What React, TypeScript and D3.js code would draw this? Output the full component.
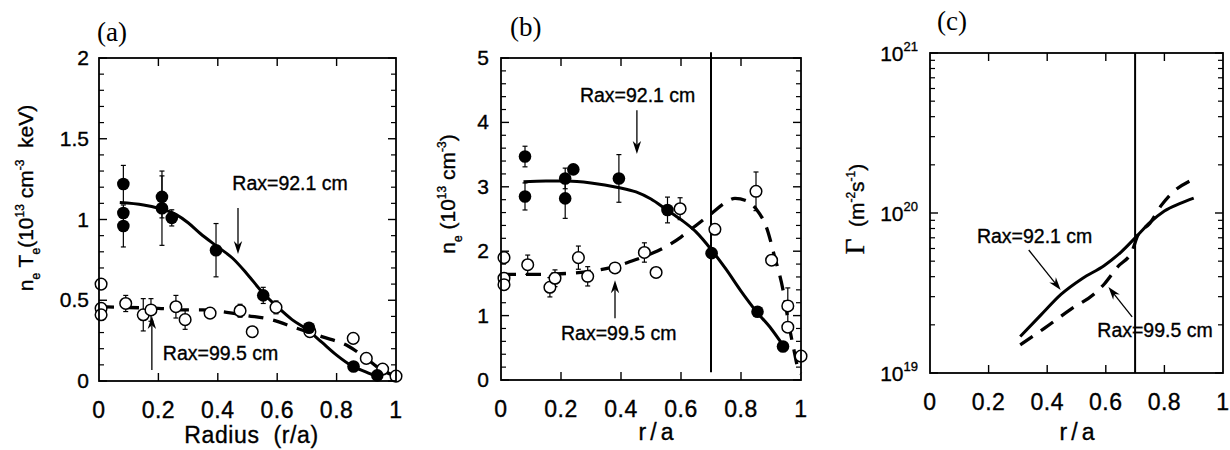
import React from "react";
import * as d3 from "d3";

type Pt = [number, number];
type EPt = [number, number, number];

const SANS = "'Liberation Sans', Arial, Helvetica, sans-serif";
const SERIF = "'Liberation Serif', 'Times New Roman', serif";
const NB = "\u00a0";

// ---------- shared x axis ----------
const xTickVals = [0, 0.2, 0.4, 0.6, 0.8, 1];
const xTickLabels = ["0", "0.2", "0.4", "0.6", "0.8", "1"];

// ---------- panel (a): n_e T_e ----------
const aYTicks = [0, 0.5, 1, 1.5, 2];
const aYTickLabels = ["0", "0.5", "1", "1.5", "2"];
const aFilled: EPt[] = [
  [0.082, 1.22, 0.115], [0.082, 1.04, 0], [0.082, 0.96, 0.13],
  [0.212, 1.14, 0.13], [0.212, 1.07, 0.23], [0.245, 1.01, 0.05],
  [0.394, 0.81, 0.165], [0.553, 0.53, 0.05], [0.707, 0.33, 0],
  [0.857, 0.09, 0], [0.937, 0.035, 0],
];
const aOpen: EPt[] = [
  [0.007, 0.6, 0], [0.007, 0.45, 0], [0.007, 0.41, 0],
  [0.09, 0.48, 0.05], [0.149, 0.41, 0.1], [0.175, 0.44, 0.07],
  [0.259, 0.46, 0.07], [0.29, 0.38, 0.06], [0.374, 0.42, 0],
  [0.475, 0.435, 0.04], [0.516, 0.305, 0], [0.596, 0.456, 0.04],
  [0.71, 0.305, 0], [0.856, 0.264, 0], [0.9, 0.14, 0],
  [0.955, 0.074, 0], [1.0, 0.03, 0],
];
const aSolid: Pt[] = [
  [0.07, 1.105], [0.15, 1.09], [0.2, 1.07], [0.26, 1.03], [0.3, 0.98],
  [0.34, 0.915], [0.4, 0.83], [0.45, 0.76], [0.5, 0.66], [0.55, 0.55],
  [0.6, 0.46], [0.65, 0.38], [0.7, 0.32], [0.75, 0.24], [0.8, 0.16],
  [0.85, 0.095], [0.9, 0.055], [0.94, 0.025],
];
const aDashed: Pt[] = [
  [0, 0.46], [0.1, 0.455], [0.2, 0.45], [0.3, 0.44], [0.35, 0.44],
  [0.43, 0.425], [0.5, 0.405], [0.58, 0.38], [0.66, 0.33], [0.75, 0.275],
  [0.84, 0.215], [0.9, 0.14], [0.95, 0.07], [1.0, 0.03],
];

// ---------- panel (b): n_e ----------
const bYTicks = [0, 1, 2, 3, 4, 5];
const bYTickLabels = ["0", "1", "2", "3", "4", "5"];
const bFilled: EPt[] = [
  [0.08, 3.47, 0.16], [0.08, 2.85, 0.21], [0.214, 3.13, 0.16],
  [0.214, 2.82, 0.31], [0.241, 3.27, 0], [0.393, 3.13, 0.37],
  [0.555, 2.64, 0.2], [0.702, 1.97, 0], [0.855, 1.06, 0], [0.94, 0.52, 0],
];
const bOpen: EPt[] = [
  [0.01, 1.9, 0], [0.01, 1.58, 0], [0.01, 1.48, 0],
  [0.089, 1.79, 0.15], [0.163, 1.44, 0.15], [0.18, 1.58, 0.13],
  [0.258, 1.9, 0.18], [0.289, 1.61, 0.15], [0.38, 1.74, 0],
  [0.478, 1.98, 0.15], [0.517, 1.67, 0], [0.597, 2.66, 0.17],
  [0.713, 2.34, 0], [0.85, 2.93, 0.3], [0.902, 1.86, 0],
  [0.956, 1.15, 0.28], [0.956, 0.82, 0], [1.0, 0.37, 0],
];
const bSolid: Pt[] = [
  [0.075, 3.08], [0.15, 3.09], [0.22, 3.09], [0.3, 3.06], [0.39, 2.99],
  [0.45, 2.92], [0.5, 2.81], [0.55, 2.65], [0.6, 2.49], [0.65, 2.3],
  [0.7, 2.03], [0.75, 1.72], [0.8, 1.38], [0.85, 1.07], [0.9, 0.8], [0.94, 0.54],
];
const bDashed: Pt[] = [
  [0, 1.64], [0.1, 1.64], [0.2, 1.65], [0.3, 1.69], [0.35, 1.73], [0.4, 1.79],
  [0.45, 1.87], [0.5, 1.96], [0.55, 2.07], [0.6, 2.22], [0.65, 2.4],
  [0.7, 2.58], [0.75, 2.76], [0.78, 2.82], [0.82, 2.78], [0.85, 2.66],
  [0.89, 2.3], [0.91, 1.95], [0.94, 1.4], [0.96, 0.85], [0.975, 0.5],
  [0.99, 0.18], [1.0, 0.1],
];

// ---------- panel (c): Gamma (log) ----------
const cYTicks = [1e19, 1e20, 1e21];
const cYTickExps = ["19", "20", "21"];
const cSolid: Pt[] = [
  [0.308, 1.69e19], [0.378, 2.3e19], [0.447, 3.1e19], [0.52, 3.9e19],
  [0.595, 4.7e19], [0.652, 5.7e19], [0.71, 7.3e19], [0.75, 8.7e19],
  [0.8, 1.03e20], [0.854, 1.15e20], [0.9, 1.24e20],
];
const cDashed: Pt[] = [
  [0.308, 1.5e19], [0.39, 1.9e19], [0.48, 2.5e19], [0.558, 3.1e19],
  [0.595, 3.6e19], [0.64, 4.6e19], [0.69, 5.8e19], [0.71, 7.3e19],
  [0.75, 8.6e19], [0.79, 1.12e20], [0.82, 1.3e20], [0.9, 1.63e20],
];

// ---------- annotations (data coordinates) ----------
type Ann = { text: string; tx: number; ty: number; x1: number; y1: number; x2: number; y2: number };
const aAnn: Ann[] = [
  { text: "Rax=92.1 cm", tx: 0.449, ty: 1.183, x1: 0.468, y1: 1.071, x2: 0.468, y2: 0.786 },
  { text: "Rax=99.5 cm", tx: 0.215, ty: 0.13, x1: 0.178, y1: 0.068, x2: 0.178, y2: 0.402 },
];
const bAnn: Ann[] = [
  { text: "Rax=92.1 cm", tx: 0.263, ty: 4.32, x1: 0.453, y1: 4.19, x2: 0.453, y2: 3.51 },
  { text: "Rax=99.5 cm", tx: 0.2, ty: 0.62, x1: 0.38, y1: 0.96, x2: 0.38, y2: 1.55 },
];
const cAnn: Ann[] = [
  { text: "Rax=92.1 cm", tx: 0.16, ty: 6.5e19, x1: 0.337, y1: 5.87e19, x2: 0.446, y2: 3.3e19 },
  { text: "Rax=99.5 cm", tx: 0.571, ty: 1.68e19, x1: 0.69, y1: 2.24e19, x2: 0.609, y2: 3.45e19 },
];

type PanelProps = {
  left: number; right: number; top: number; bottom: number;
  log?: boolean; yDomain: [number, number];
  yMajor: number[]; yMinor: number[];
  yLabel: (v: number, i: number) => React.ReactNode;
  filled?: EPt[]; open?: EPt[]; solid: Pt[]; dashed: Pt[];
  vline?: [number, number, number];
  ann: Ann[];
};

const INK = { stroke: "#000", strokeWidth: 0.35 };

function Arrow({ x1, y1, x2, y2 }: { x1: number; y1: number; x2: number; y2: number }) {
  const ang = Math.atan2(y2 - y1, x2 - x1);
  const L = 13, Wd = 4.2;
  const bx = x2 - L * Math.cos(ang), by = y2 - L * Math.sin(ang);
  const nx = -Math.sin(ang), ny = Math.cos(ang);
  const nxp = x2 - (L * 0.7) * Math.cos(ang), nyp = y2 - (L * 0.7) * Math.sin(ang);
  const pts = [
    [x2, y2], [bx + nx * Wd, by + ny * Wd], [nxp, nyp], [bx - nx * Wd, by - ny * Wd],
  ].map((p) => p.join(",")).join(" ");
  return (
    <g>
      <line x1={x1} y1={y1} x2={nxp} y2={nyp} stroke="#000" strokeWidth={1.3} />
      <polygon points={pts} fill="#000" />
    </g>
  );
}

function Panel(p: PanelProps) {
  const x = d3.scaleLinear().domain([0, 1]).range([p.left, p.right]);
  const y = (p.log ? d3.scaleLog() : d3.scaleLinear()).domain(p.yDomain).range([p.bottom, p.top]) as any;
  const line = d3.line<Pt>().x((d) => x(d[0])).y((d) => y(d[1])).curve(d3.curveMonotoneX);
  const errBars = (pts: EPt[]) =>
    pts.filter((d) => d[2] > 0).map((d, i) => {
      const cx = x(d[0]);
      const y1 = y(d[1] + d[2]), y2 = y(d[1] - d[2]);
      return (
        <g key={i} stroke="#000" strokeWidth={1.2}>
          <line x1={cx} x2={cx} y1={y1} y2={y2} />
          <line x1={cx - 2.5} x2={cx + 2.5} y1={y1} y2={y1} />
          <line x1={cx - 2.5} x2={cx + 2.5} y1={y2} y2={y2} />
        </g>
      );
    });
  return (
    <g>
      {xTickVals.slice(1, -1).map((v) => (
        <g key={"xt" + v} stroke="#000" strokeWidth={1.4}>
          <line x1={x(v)} x2={x(v)} y1={p.bottom} y2={p.bottom - 8} />
          <line x1={x(v)} x2={x(v)} y1={p.top} y2={p.top + 8} />
        </g>
      ))}
      {p.yMajor.map((v) => (
        <g key={"ym" + v} stroke="#000" strokeWidth={1.4}>
          <line x1={p.left} x2={p.left + 8} y1={y(v)} y2={y(v)} />
          <line x1={p.right} x2={p.right - 8} y1={y(v)} y2={y(v)} />
        </g>
      ))}
      {p.yMinor.map((v) => (
        <g key={"yn" + v} stroke="#000" strokeWidth={1.2}>
          <line x1={p.left} x2={p.left + 5} y1={y(v)} y2={y(v)} />
          <line x1={p.right} x2={p.right - 5} y1={y(v)} y2={y(v)} />
        </g>
      ))}
      {xTickVals.map((v, i) => (
        <text key={"xl" + v} x={x(v)} y={p.bottom + 37} textAnchor="middle" fontFamily={SANS} fontSize={23} letterSpacing={0.5} {...INK}>
          {xTickLabels[i]}
        </text>
      ))}
      {p.yMajor.map((v, i) => (
        <g key={"yl" + v}>{p.yLabel(v, i)}</g>
      ))}
      {p.vline && (
        <line x1={x(p.vline[0])} x2={x(p.vline[0])} y1={y(p.vline[1])} y2={y(p.vline[2])} stroke="#000" strokeWidth={2} />
      )}
      {p.open && errBars(p.open)}
      {p.filled && errBars(p.filled)}
      <path d={line(p.dashed) || ""} fill="none" stroke="#000" strokeWidth={3.3} strokeDasharray="15 10" />
      <path d={line(p.solid) || ""} fill="none" stroke="#000" strokeWidth={3} />
      {p.open && p.open.map((d, i) => (
        <circle key={"o" + i} cx={x(d[0])} cy={y(d[1])} r={5.8} fill="#fff" stroke="#000" strokeWidth={1.5} />
      ))}
      {p.filled && p.filled.map((d, i) => (
        <circle key={"f" + i} cx={x(d[0])} cy={y(d[1])} r={6.3} fill="#000" />
      ))}
      {p.ann.map((a, i) => (
        <g key={"a" + i}>
          <text x={x(a.tx)} y={y(a.ty)} fontFamily={SANS} fontSize={19.5} {...INK}>{a.text}</text>
          <Arrow x1={x(a.x1)} y1={y(a.y1)} x2={x(a.x2)} y2={y(a.y2)} />
        </g>
      ))}
      <rect x={p.left} y={p.top} width={p.right - p.left} height={p.bottom - p.top} fill="none" stroke="#000" strokeWidth={1.8} />
    </g>
  );
}

export default function App() {
  const A = { left: 99, right: 396, top: 58, bottom: 381 };
  const B = { left: 501, right: 801, top: 58, bottom: 380 };
  const C = { left: 930, right: 1223, top: 53, bottom: 373 };
  const ayScale = d3.scaleLinear().domain([0, 2]).range([A.bottom, A.top]);
  const byScale = d3.scaleLinear().domain([0, 5]).range([B.bottom, B.top]);
  const cyScale = d3.scaleLog().domain([1e19, 1e21]).range([C.bottom, C.top]);
  const aMinor = d3.range(0, 2.001, 0.1).filter((v) => Math.abs(v * 2 - Math.round(v * 2)) > 1e-6);
  const bMinor = d3.range(0, 5.001, 0.2).filter((v) => Math.abs(v - Math.round(v)) > 1e-6);
  const cMinor: number[] = [];
  [1e19, 1e20].forEach((b) => d3.range(2, 10).forEach((k) => cMinor.push(b * k)));

  return (
    <svg width={1230} height={450} style={{ position: "absolute", left: 0, top: 0, background: "#fff" }}>
      <rect x={0} y={0} width={1230} height={450} fill="#fff" />
      {/* Panel (a) */}
      <text x={97} y={41} fontFamily={SERIF} fontSize={27}>(a)</text>
      <Panel
        {...A}
        yDomain={[0, 2]}
        yMajor={aYTicks}
        yMinor={aMinor}
        yLabel={(v, i) => (
          <text x={A.left - 10} y={ayScale(v) + 7} textAnchor="end" fontFamily={SANS} fontSize={21} {...INK}>{aYTickLabels[i]}</text>
        )}
        filled={aFilled}
        open={aOpen}
        solid={aSolid}
        dashed={aDashed}
        ann={aAnn}
      />
      <text x={(A.left + A.right) / 2 + 4} y={443} textAnchor="middle" fontFamily={SANS} fontSize={23} letterSpacing={0.6} {...INK}>{`Radius${NB}${NB}(r/a)`}</text>
      <text transform={`translate(33,198) rotate(-90)`} textAnchor="middle" fontFamily={SANS} fontSize={21} {...INK}>
        n<tspan dy={7} fontSize={12}>e</tspan><tspan dy={-7}>{` T`}</tspan><tspan dy={7} fontSize={12}>e</tspan>
        <tspan dy={-7}>(10</tspan><tspan dy={-9} fontSize={12}>13</tspan><tspan dy={9}>{" cm"}</tspan>
        <tspan dy={-9} fontSize={12}>-3</tspan><tspan dy={9}>{`${NB}${NB}keV)`}</tspan>
      </text>

      {/* Panel (b) */}
      <text x={510} y={36} fontFamily={SERIF} fontSize={27}>(b)</text>
      <Panel
        {...B}
        yDomain={[0, 5]}
        yMajor={bYTicks}
        yMinor={bMinor}
        yLabel={(v, i) => (
          <text x={B.left - 12} y={byScale(v) + 7} textAnchor="end" fontFamily={SANS} fontSize={21} {...INK}>{bYTickLabels[i]}</text>
        )}
        filled={bFilled}
        open={bOpen}
        solid={bSolid}
        dashed={bDashed}
        vline={[0.7, 5.09, 0.12]}
        ann={bAnn}
      />
      <text x={658} y={440} textAnchor="middle" fontFamily={SANS} fontSize={23} letterSpacing={4} {...INK}>r/a</text>
      <text transform={`translate(455,194) rotate(-90)`} textAnchor="middle" fontFamily={SANS} fontSize={21} {...INK}>
        n<tspan dy={7} fontSize={12}>e</tspan><tspan dy={-7}>{" (10"}</tspan><tspan dy={-9} fontSize={12}>13</tspan>
        <tspan dy={9}>{" cm"}</tspan><tspan dy={-9} fontSize={12}>-3</tspan><tspan dy={9}>)</tspan>
      </text>

      {/* Panel (c) */}
      <text x={937} y={30} fontFamily={SERIF} fontSize={27}>(c)</text>
      <Panel
        {...C}
        log
        yDomain={[1e19, 1e21]}
        yMajor={cYTicks}
        yMinor={cMinor}
        yLabel={(v, i) => (
          <text x={C.left - 12} y={cyScale(v) + 8} textAnchor="end" fontFamily={SANS} fontSize={21} {...INK}>
            10<tspan dy={-10} fontSize={13}>{cYTickExps[i]}</tspan>
          </text>
        )}
        solid={cSolid}
        dashed={cDashed}
        vline={[0.7, 1e21, 1e19]}
        ann={cAnn}
      />
      <text x={1079} y={440} textAnchor="middle" fontFamily={SANS} fontSize={23} letterSpacing={4} {...INK}>r/a</text>
      <text transform={`translate(864,209) rotate(-90)`} textAnchor="middle" fontFamily={SANS} fontSize={21} {...INK}>
        <tspan fontFamily={SERIF} fontSize={27}>Γ</tspan><tspan>{`${NB}${NB}(m`}</tspan><tspan dy={-9} fontSize={12}>-2</tspan>
        <tspan dy={9}>s</tspan><tspan dy={-9} fontSize={12}>-1</tspan><tspan dy={9}>)</tspan>
      </text>
    </svg>
  );
}
